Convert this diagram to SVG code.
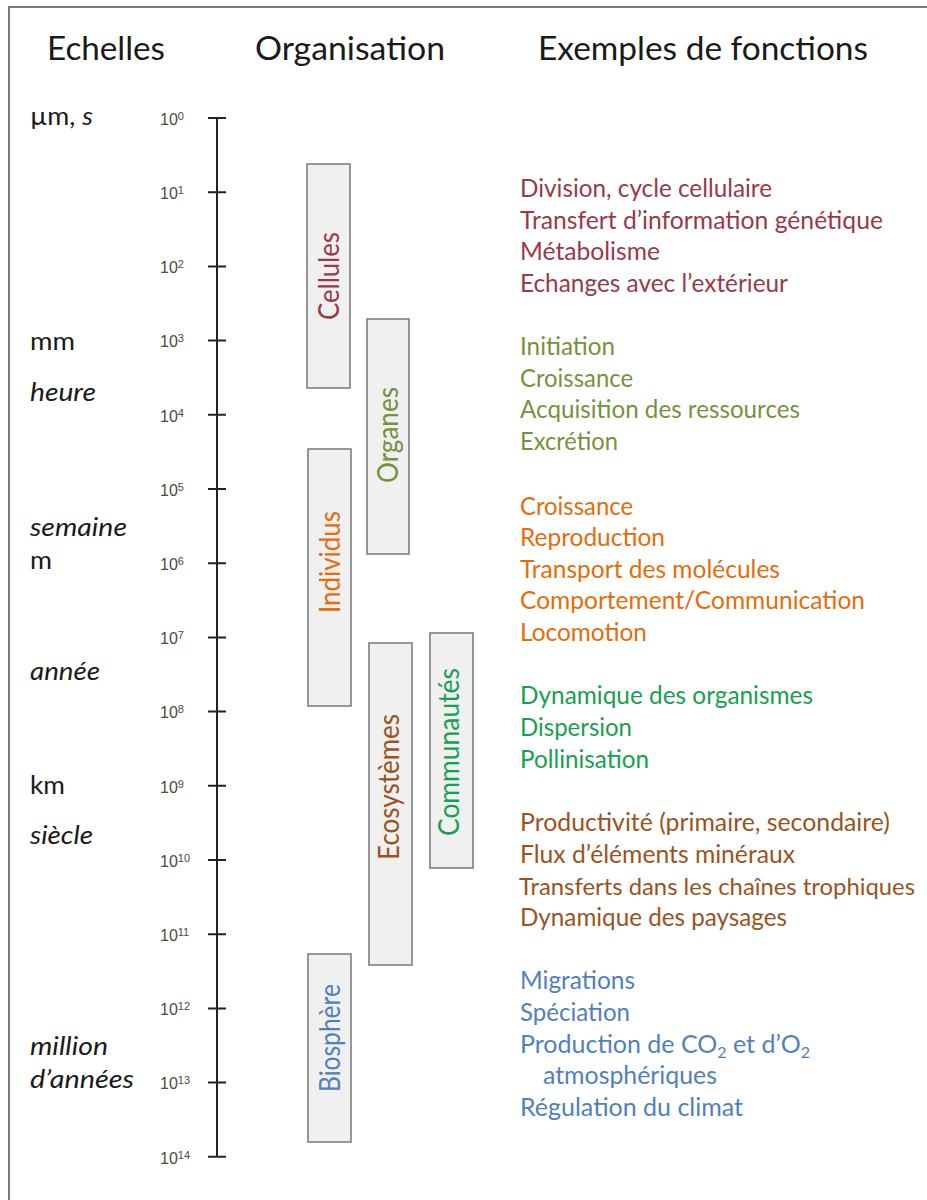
<svg xmlns="http://www.w3.org/2000/svg" width="927" height="1200" viewBox="0 0 927 1200">
<style>
text{font-family:Lato,"Open Sans","Liberation Sans",sans-serif}
.hdr{font-size:32px;fill:#1a1a1a}
.lbl{font-size:25px;fill:#1a1a1a}
.it{font-style:italic}
.num{font-family:"Liberation Sans",Arial,sans-serif;font-size:16px;fill:#4a4a4a}
.sup{font-size:11px}
.box{fill:#f0f0f0;stroke:#7f7f7f;stroke-width:1.6}
.blab{font-size:28px;text-anchor:middle}
.fn{font-size:25px}
.red{fill:#983a48}.olive{fill:#76923c}.orange{fill:#e46c0a}.green{fill:#16a050}.brown{fill:#9a5320}.blue{fill:#4f81bd}
.axis{stroke:#222;stroke-width:2;fill:none}
</style>
<rect x="9" y="7" width="940" height="1210" fill="#fff" stroke="#7a7a7a" stroke-width="2"/>
<g id="headers">
<text class="hdr" x="47" y="60" textLength="118" lengthAdjust="spacingAndGlyphs">Echelles</text>
<text class="hdr" x="255" y="60" textLength="190" lengthAdjust="spacingAndGlyphs">Organisation</text>
<text class="hdr" x="538" y="60" textLength="330" lengthAdjust="spacingAndGlyphs">Exemples de fonctions</text>
</g>
<g id="scale-labels">
<text class="lbl" x="30" y="125" textLength="63" lengthAdjust="spacingAndGlyphs">µm, <tspan class="it">s</tspan></text>
<text class="lbl" x="30" y="350" textLength="45" lengthAdjust="spacingAndGlyphs">mm</text>
<text class="lbl it" x="30" y="401" textLength="66" lengthAdjust="spacingAndGlyphs">heure</text>
<text class="lbl it" x="30" y="536" textLength="97" lengthAdjust="spacingAndGlyphs">semaine</text>
<text class="lbl" x="30" y="569" textLength="22" lengthAdjust="spacingAndGlyphs">m</text>
<text class="lbl it" x="30" y="680" textLength="70" lengthAdjust="spacingAndGlyphs">année</text>
<text class="lbl" x="30" y="794" textLength="35" lengthAdjust="spacingAndGlyphs">km</text>
<text class="lbl it" x="30" y="844" textLength="63" lengthAdjust="spacingAndGlyphs">siècle</text>
<text class="lbl it" x="30" y="1055" textLength="78" lengthAdjust="spacingAndGlyphs">million</text>
<text class="lbl it" x="30" y="1088" textLength="104" lengthAdjust="spacingAndGlyphs">d’années</text>
</g>
<g id="axis">
<line class="axis" x1="217" y1="118" x2="217" y2="1157"/>
<path class="axis" d="M208 118H226M208 192.2H226M208 266.4H226M208 340.6H226M208 414.8H226M208 489H226M208 563.2H226M208 637.4H226M208 711.6H226M208 785.8H226M208 860H226M208 934.2H226M208 1008.4H226M208 1082.6H226M208 1156.8H226"/>
<text class="num" x="160" y="125">10<tspan class="sup" dy="-5">0</tspan></text>
<text class="num" x="160" y="199">10<tspan class="sup" dy="-5">1</tspan></text>
<text class="num" x="160" y="273">10<tspan class="sup" dy="-5">2</tspan></text>
<text class="num" x="160" y="347">10<tspan class="sup" dy="-5">3</tspan></text>
<text class="num" x="160" y="422">10<tspan class="sup" dy="-5">4</tspan></text>
<text class="num" x="160" y="496">10<tspan class="sup" dy="-5">5</tspan></text>
<text class="num" x="160" y="570">10<tspan class="sup" dy="-5">6</tspan></text>
<text class="num" x="160" y="644">10<tspan class="sup" dy="-5">7</tspan></text>
<text class="num" x="160" y="718">10<tspan class="sup" dy="-5">8</tspan></text>
<text class="num" x="160" y="793">10<tspan class="sup" dy="-5">9</tspan></text>
<text class="num" x="160" y="867">10<tspan class="sup" dy="-5">10</tspan></text>
<text class="num" x="160" y="941">10<tspan class="sup" dy="-5">11</tspan></text>
<text class="num" x="160" y="1015">10<tspan class="sup" dy="-5">12</tspan></text>
<text class="num" x="160" y="1089">10<tspan class="sup" dy="-5">13</tspan></text>
<text class="num" x="160" y="1164">10<tspan class="sup" dy="-5">14</tspan></text>
</g>
<g id="cellules">
<rect class="box" x="307" y="164" width="43" height="224"/>
<text class="blab red" transform="translate(339 276) rotate(-90)" textLength="88" lengthAdjust="spacingAndGlyphs">Cellules</text>
</g>
<g id="organes">
<rect class="box" x="367" y="319" width="42" height="235"/>
<text class="blab olive" transform="translate(398 435) rotate(-90)" textLength="96" lengthAdjust="spacingAndGlyphs">Organes</text>
</g>
<g id="individus">
<rect class="box" x="308" y="449" width="43" height="257"/>
<text class="blab orange" transform="translate(340 562) rotate(-90)" textLength="102" lengthAdjust="spacingAndGlyphs">Individus</text>
</g>
<g id="ecosystemes">
<rect class="box" x="369" y="643" width="43" height="322"/>
<text class="blab brown" transform="translate(399 787) rotate(-90)" textLength="146" lengthAdjust="spacingAndGlyphs">Ecosystèmes</text>
</g>
<g id="communautes">
<rect class="box" x="430" y="633" width="43" height="235"/>
<text class="blab green" transform="translate(459 752) rotate(-90)" textLength="168" lengthAdjust="spacingAndGlyphs">Communautés</text>
</g>
<g id="biosphere">
<rect class="box" x="308" y="954" width="43" height="188"/>
<text class="blab blue" transform="translate(340 1038) rotate(-90)" textLength="108" lengthAdjust="spacingAndGlyphs">Biosphère</text>
</g>
<g id="fonctions">
<text class="fn red" x="520" y="197" textLength="252" lengthAdjust="spacingAndGlyphs">Division, cycle cellulaire</text>
<text class="fn red" x="520" y="229" textLength="363" lengthAdjust="spacingAndGlyphs">Transfert d’information génétique</text>
<text class="fn red" x="520" y="260" textLength="140" lengthAdjust="spacingAndGlyphs">Métabolisme</text>
<text class="fn red" x="520" y="292" textLength="268" lengthAdjust="spacingAndGlyphs">Echanges avec l’extérieur</text>
<text class="fn olive" x="520" y="355" textLength="95" lengthAdjust="spacingAndGlyphs">Initiation</text>
<text class="fn olive" x="520" y="387" textLength="113" lengthAdjust="spacingAndGlyphs">Croissance</text>
<text class="fn olive" x="520" y="418" textLength="280" lengthAdjust="spacingAndGlyphs">Acquisition des ressources</text>
<text class="fn olive" x="520" y="450" textLength="98" lengthAdjust="spacingAndGlyphs">Excrétion</text>
<text class="fn orange" x="520" y="515" textLength="113" lengthAdjust="spacingAndGlyphs">Croissance</text>
<text class="fn orange" x="520" y="546" textLength="145" lengthAdjust="spacingAndGlyphs">Reproduction</text>
<text class="fn orange" x="520" y="578" textLength="260" lengthAdjust="spacingAndGlyphs">Transport des molécules</text>
<text class="fn orange" x="520" y="609" textLength="345" lengthAdjust="spacingAndGlyphs">Comportement/Communication</text>
<text class="fn orange" x="520" y="641" textLength="127" lengthAdjust="spacingAndGlyphs">Locomotion</text>
<text class="fn green" x="520" y="704" textLength="293" lengthAdjust="spacingAndGlyphs">Dynamique des organismes</text>
<text class="fn green" x="520" y="736" textLength="112" lengthAdjust="spacingAndGlyphs">Dispersion</text>
<text class="fn green" x="520" y="768" textLength="129" lengthAdjust="spacingAndGlyphs">Pollinisation</text>
<text class="fn brown" x="520" y="831" textLength="370" lengthAdjust="spacingAndGlyphs">Productivité (primaire, secondaire)</text>
<text class="fn brown" x="520" y="863" textLength="275" lengthAdjust="spacingAndGlyphs">Flux d’éléments minéraux</text>
<text class="fn brown" x="519" y="895" font-size="23.5" style="font-size:23.5px" textLength="396" lengthAdjust="spacingAndGlyphs">Transferts dans les chaînes trophiques</text>
<text class="fn brown" x="520" y="926" textLength="267" lengthAdjust="spacingAndGlyphs">Dynamique des paysages</text>
<text class="fn blue" x="520" y="989" textLength="115" lengthAdjust="spacingAndGlyphs">Migrations</text>
<text class="fn blue" x="520" y="1021" textLength="110" lengthAdjust="spacingAndGlyphs">Spéciation</text>
<text class="fn blue" x="520" y="1053">Production de CO<tspan font-size="16" dy="5">2</tspan><tspan dy="-5"> et d’O</tspan><tspan font-size="16" dy="5">2</tspan></text>
<text class="fn blue" x="543" y="1084" textLength="174" lengthAdjust="spacingAndGlyphs">atmosphériques</text>
<text class="fn blue" x="520" y="1116" textLength="223" lengthAdjust="spacingAndGlyphs">Régulation du climat</text>
</g>
</svg>
